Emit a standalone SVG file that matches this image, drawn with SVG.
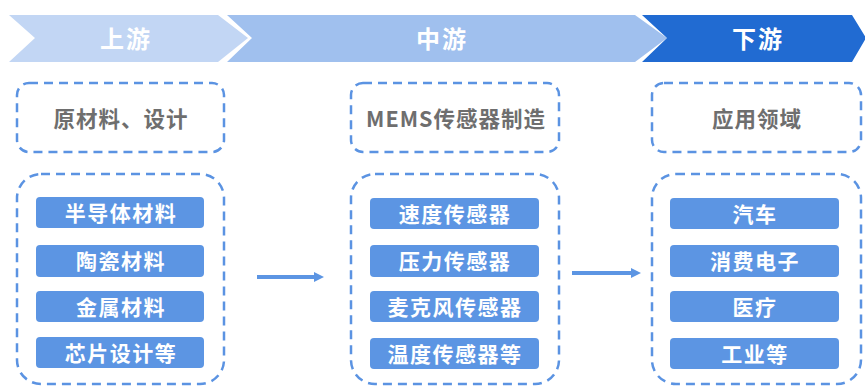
<svg xmlns="http://www.w3.org/2000/svg" width="865" height="388" viewBox="0 0 865 388">
<defs>
<style>
.band{font-family:"Noto Sans CJK SC","Noto Sans",sans-serif;font-weight:bold;font-size:24px;letter-spacing:2px;fill:#fff;text-anchor:middle}
.dash{fill:none;stroke:#5B93E2;stroke-width:2.5;stroke-dasharray:9 6}
.title{font-family:"Noto Sans CJK SC","Noto Sans",sans-serif;font-weight:bold;font-size:21.5px;letter-spacing:1px;fill:#6E6E6E;text-anchor:middle}
.item rect{fill:#5C95E3}
.item text{font-family:"Noto Sans CJK SC","Noto Sans",sans-serif;font-weight:bold;font-size:21px;letter-spacing:1.5px;fill:#fff;text-anchor:middle}
.conn{stroke:#5C95E3;stroke-width:4;fill:none}
</style>
<marker id="ah" viewBox="0 0 10 10" refX="2" refY="5" markerWidth="2.5" markerHeight="3" orient="auto" markerUnits="strokeWidth"><path d="M0,0 L10,5 L0,10 z" fill="#5C95E3"/></marker>
</defs>
<g id="band-up"><polygon points="9,15 218,15 248,38 218,62 9,62 35,38" fill="#C2D6F4"/><text class="band" x="126" y="47.5">上游</text></g>
<g id="band-mid"><polygon points="227,15 635,15 667,38 635,62 227,62 252,38" fill="#A0C0EE"/><text class="band" x="442" y="47.5">中游</text></g>
<g id="band-down"><polygon points="642,15 852,15 866,38 852,62 642,62 667,38" fill="#216BD2"/><text class="band" x="758" y="47.5">下游</text></g>

<g id="t1"><rect class="dash" x="17" y="83" width="207" height="69" rx="12"/><text class="title" x="121" y="127">原材料、设计</text></g>
<g id="t2"><rect class="dash" x="351" y="83" width="208" height="69" rx="12"/><text class="title" x="456" y="127">MEMS传感器制造</text></g>
<g id="t3"><rect class="dash" x="652" y="83" width="209" height="69" rx="12"/><text class="title" x="757" y="127">应用领域</text></g>

<g id="b1"><rect class="dash" x="17" y="174" width="207" height="210" rx="24"/>
<g class="item"><rect x="36" y="197" width="168" height="31" rx="4"/><text x="121" y="220.5">半导体材料</text></g>
<g class="item"><rect x="36" y="245" width="168" height="32" rx="4"/><text x="121" y="268.5">陶瓷材料</text></g>
<g class="item"><rect x="36" y="291" width="168" height="31" rx="4"/><text x="121" y="314.5">金属材料</text></g>
<g class="item"><rect x="36" y="337" width="168" height="31" rx="4"/><text x="121" y="360.5">芯片设计等</text></g>
</g>
<g id="b2"><rect class="dash" x="351" y="174" width="208" height="210" rx="24"/>
<g class="item"><rect x="370" y="198" width="169" height="31" rx="4"/><text x="455" y="221.5">速度传感器</text></g>
<g class="item"><rect x="370" y="245" width="169" height="32" rx="4"/><text x="455" y="268.5">压力传感器</text></g>
<g class="item"><rect x="370" y="291" width="169" height="31" rx="4"/><text x="455" y="314.5">麦克风传感器</text></g>
<g class="item"><rect x="370" y="338" width="169" height="31" rx="4"/><text x="455" y="361.5">温度传感器等</text></g>
</g>
<g id="b3"><rect class="dash" x="652" y="174" width="209" height="210" rx="24"/>
<g class="item"><rect x="670" y="198" width="169" height="31" rx="4"/><text x="755" y="221.5">汽车</text></g>
<g class="item"><rect x="670" y="245" width="169" height="32" rx="4"/><text x="755" y="268.5">消费电子</text></g>
<g class="item"><rect x="670" y="291" width="169" height="31" rx="4"/><text x="755" y="314.5">医疗</text></g>
<g class="item"><rect x="670" y="338" width="169" height="31" rx="4"/><text x="755" y="361.5">工业等</text></g>
</g>

<g id="connectors">
<line class="conn" x1="257" y1="277" x2="316" y2="277" marker-end="url(#ah)"/>
<line class="conn" x1="572" y1="273" x2="633" y2="273" marker-end="url(#ah)"/>
</g>
</svg>
